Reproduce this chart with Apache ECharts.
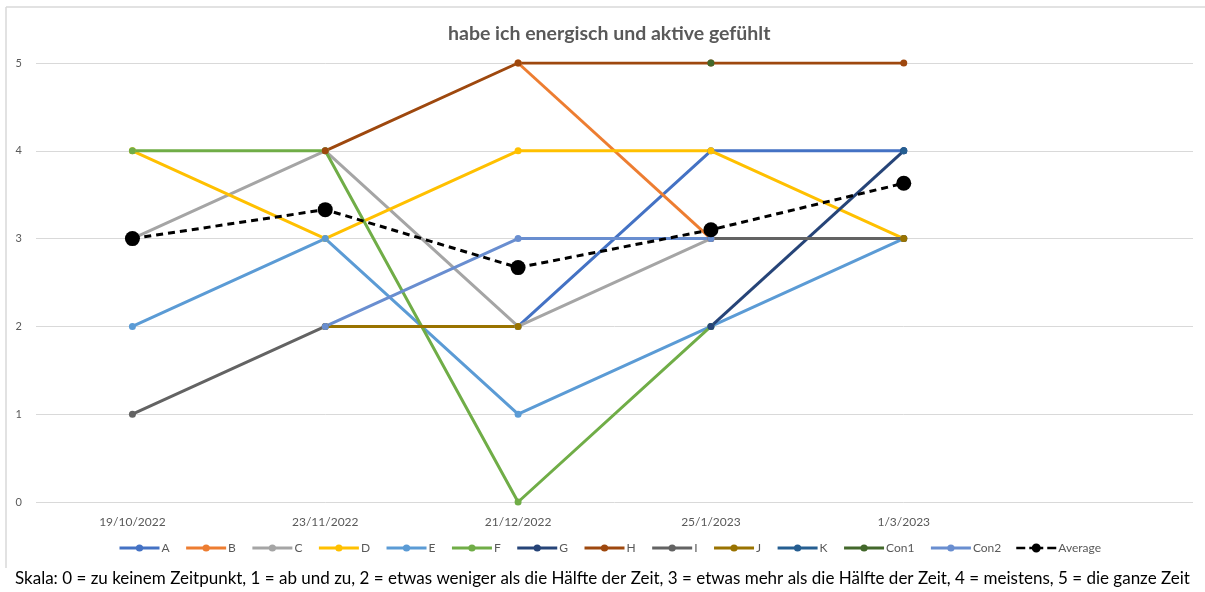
<!DOCTYPE html>
<html>
<head>
<meta charset="utf-8">
<script src="https://cdn.jsdelivr.net/npm/echarts@6/dist/echarts.min.js"></script>
<style>
html,body{margin:0;padding:0;background:#fff;}
#chart{width:1205px;height:592px;}
</style>
</head>
<body>
<div id="chart"></div>
<script>
var categories = ['19/10/2022', '23/11/2022', '21/12/2022', '25/1/2023', '1/3/2023', ''];
var yTicks = [0, 1, 2, 3, 4, 5];

var A    = [null, null, 2, 4, 4];
var B    = [null, null, 5, 3, null];
var C    = [3, 4, 2, 3, null];
var D    = [4, 3, 4, 4, 3];
var E    = [2, 3, 1, 2, 3];
var F    = [4, 4, 0, 2, null];
var G    = [null, null, null, 2, 4];
var H    = [null, 4, 5, 5, 5];
var I    = [1, 2, null, 3, 3];
var J    = [null, 2, 2, null, 3];
var K    = [null, null, null, null, 4];
var Con1 = [null, null, null, 5, null];
var Con2 = [null, 2, 3, 3, null];
var Average = [3, 3.33, 2.67, 3.1, 3.63];

var seriesNames = ['A','B','C','D','E','F','G','H','I','J','K','Con1','Con2'];
var seriesData  = [A, B, C, D, E, F, G, H, I, J, K, Con1, Con2];
var colors = ['#4472C4','#ED7D31','#A5A5A5','#FFC000','#5B9BD5','#70AD47','#264478','#9E480E','#636363','#997300','#255E91','#43682B','#698ED0'];

var FONT = 'Lato, "Open Sans", sans-serif';

var series = seriesNames.map(function (n, i) {
  return {
    name: n,
    type: 'line',
    data: seriesData[i],
    symbol: 'circle',
    symbolSize: 7,
    showSymbol: true,
    connectNulls: false,
    itemStyle: { color: colors[i] },
    lineStyle: { color: colors[i], width: 3 },
    emphasis: { disabled: true },
    animation: false
  };
});
series.push({
  name: 'Average',
  type: 'line',
  data: Average,
  symbol: 'circle',
  symbolSize: 15,
  itemStyle: { color: '#000' },
  lineStyle: { color: '#000', width: 3, type: [7, 5] },
  emphasis: { disabled: true },
  animation: false
});

var avgIcon = 'path://M0,3.25H9V5.75H0Z M13,3.25H15.6V5.75H13Z M24.4,3.25H27V5.75H24.4Z M31,3.25H40V5.75H31Z M24.5,4.5A4.5,4.5 0 1 1 15.5,4.5A4.5,4.5 0 1 1 24.5,4.5Z';
var legendData = seriesNames.map(function (n) { return { name: n }; });
legendData.push({ name: 'Average', icon: avgIcon });

var chart = echarts.init(document.getElementById('chart'));
chart.setOption({
  animation: false,
  title: {
    text: 'habe ich energisch und aktive gefühlt',
    left: 443,
    top: 19,
    textStyle: { fontFamily: FONT, fontSize: 19.5, fontWeight: 'bold', color: '#595959' }
  },
  legend: {
    data: legendData,
    bottom: 33,
    left: 113,
    itemWidth: 40,
    itemHeight: 9,
    itemGap: 15,
    lineStyle: { width: 3 },
    textStyle: { fontFamily: FONT, fontSize: 12, color: '#595959', padding: [0, 0, 0, -3] }
  },
  grid: { left: 36, right: 12, top: 63, bottom: 90, containLabel: false },
  xAxis: {
    type: 'category',
    data: categories,
    boundaryGap: true,
    axisLine: { show: false },
    axisTick: { show: false },
    axisLabel: { fontFamily: FONT, fontSize: 12, color: '#595959', margin: 14 }
  },
  yAxis: {
    type: 'value',
    min: 0,
    max: 5,
    interval: 1,
    axisLine: { show: false },
    axisTick: { show: false },
    splitLine: { lineStyle: { color: '#D9D9D9', width: 1 } },
    axisLabel: { fontFamily: FONT, fontSize: 11, color: '#595959', margin: 14 }
  },
  graphic: [
    { type: 'line', shape: { x1: 6, y1: 7, x2: 1205, y2: 7 }, style: { stroke: '#D9D9D9', lineWidth: 1.5 } },
    { type: 'line', shape: { x1: 6, y1: 7, x2: 6, y2: 568 }, style: { stroke: '#D9D9D9', lineWidth: 1.5 } },
    { type: 'text', left: 15, top: 570,
      style: { text: 'Skala: 0 = zu keinem Zeitpunkt, 1 = ab und zu, 2 = etwas weniger als die Hälfte der Zeit, 3 = etwas mehr als die Hälfte der Zeit, 4 = meistens, 5 = die ganze Zeit',
        font: '17px ' + FONT, fill: '#000' } }
  ],
  series: series
});
</script>
</body>
</html>
